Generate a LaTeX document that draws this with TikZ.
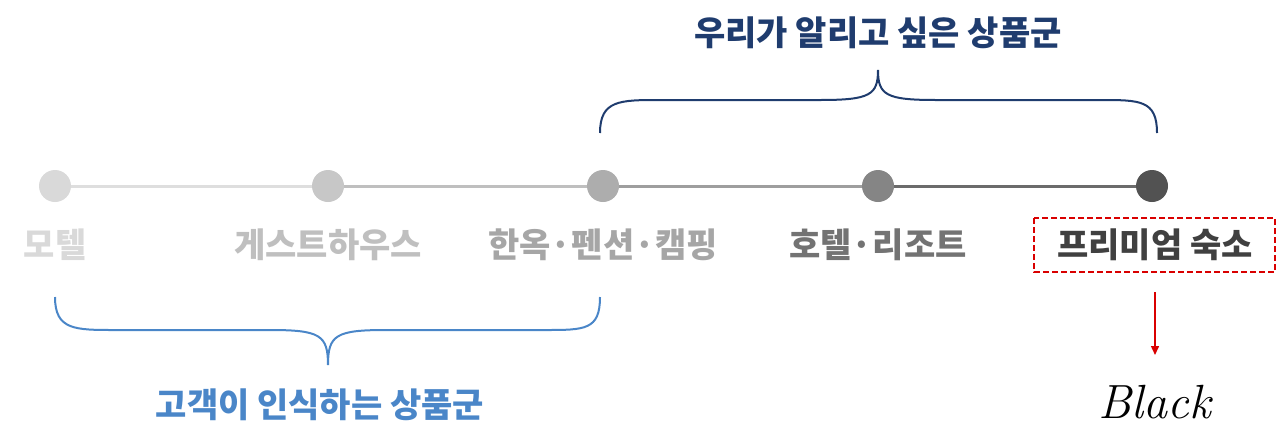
\documentclass[tikz,border=0pt]{standalone}
\usepackage{fontspec}
\newfontfamily\cjk{Noto Sans CJK KR}
\usetikzlibrary{arrows.meta}
\definecolor{navy}{HTML}{1F3C6E}
\definecolor{lblue}{HTML}{4A86C8}
\begin{document}
\begin{tikzpicture}[x=1pt,y=-1pt,
  dot/.style={circle,inner sep=0pt,minimum size=32pt},
  lab/.style={font=\cjk\bfseries\fontsize{34}{38}\selectfont,inner sep=2pt},
  ttl/.style={font=\cjk\bfseries\fontsize{34}{38}\selectfont}]
\useasboundingbox (0,0) rectangle (1280,445);
\node[dot,fill=black!15] (d1) at (55,186) {};
\node[dot,fill=black!22] (d2) at (328,186) {};
\node[dot,fill=black!32] (d3) at (603,186) {};
\node[dot,fill=black!48] (d4) at (878,186) {};
\node[dot,fill=black!68] (d5) at (1152,186) {};
\draw[line width=3pt,black!13] (d1) -- (d2);
\draw[line width=3pt,black!25] (d2) -- (d3);
\draw[line width=3pt,black!38] (d3) -- (d4);
\draw[line width=3pt,black!58] (d4) -- (d5);
\node[lab,text=black!15] (l1) at (55,245) {모텔};
\node[lab,text=black!25] (l2) at (328,245) {게스트하우스};
\node[lab,text=black!35] (l3) at (603,245) {한옥·펜션·캠핑};
\node[lab,text=black!55] (l4) at (878,245) {호텔·리조트};
\node[lab,text=black!75] (l5) at (1155,245) {프리미엄 숙소};
\draw[red!85!black,dash pattern=on 6pt off 3pt,line width=1.5pt] (1034,218) rectangle (1275,272);
% top brace
\draw[navy,line width=2pt] (600,133) .. controls (600,100) and (620,100) .. (660,100) -- (820,100) .. controls (870,100) and (878,95) .. (878,70)
  .. controls (878,95) and (886,100) .. (936,100) -- (1100,100) .. controls (1140,100) and (1157,100) .. (1157,133);
\node[ttl,text=navy] (t1) at (878,33) {우리가 알리고 싶은 상품군};
% bottom brace
\draw[lblue,line width=2pt] (55,297) .. controls (55,330) and (75,330) .. (115,330) -- (270,330) .. controls (320,330) and (328,335) .. (328,365)
  .. controls (328,335) and (336,330) .. (386,330) -- (545,330) .. controls (585,330) and (600,330) .. (600,297);
\node[ttl,text=lblue] (t2) at (320,405) {고객이 인식하는 상품군};
% arrow to Black
\node[font=\itshape\fontsize{48}{52}\selectfont] (blk) at (1155,402) {Black};
\coordinate (a0) at (1155,292);
\draw[red!85!black,line width=1.5pt,-{Triangle[length=9pt,width=8pt]}] (a0) -- (1155,355);
\end{tikzpicture}
\end{document}
